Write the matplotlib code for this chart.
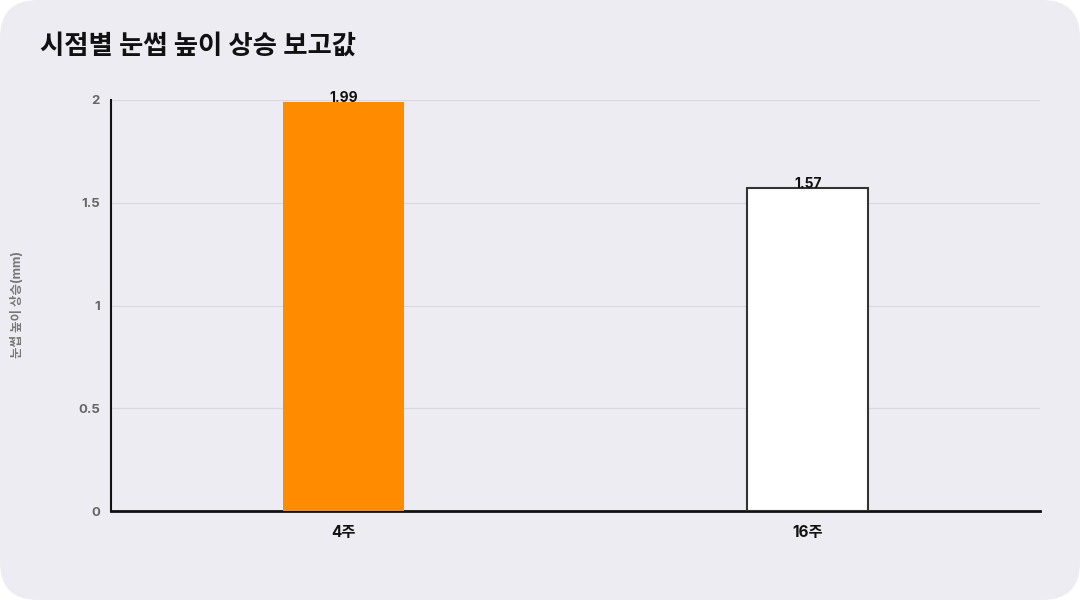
import matplotlib.pyplot as plt
from matplotlib.patches import FancyBboxPatch

# data
categories = ["4주", "16주"]
values = [1.99, 1.57]
bar_colors = ["#FF8C00", "#FFFFFF"]
edge_colors = ["#FF8C00", "#333333"]
yticks = [0, 0.5, 1, 1.5, 2]
yticklabels = ["0", "0.5", "1", "1.5", "2"]

plt.rcParams['font.family'] = ['Inter', 'Noto Sans CJK KR', 'DejaVu Sans']

bg = "#EDECF2"
fig = plt.figure(figsize=(10.8, 6), dpi=100)
fig.patch.set_facecolor("white")

# rounded card background
card = FancyBboxPatch((0, 0), 1, 1, boxstyle="round,pad=0,rounding_size=0.035",
                      transform=fig.transFigure, facecolor=bg, edgecolor="none",
                      mutation_aspect=1080 / 600, zorder=-10)
fig.patches.append(card)

ax = fig.add_axes([111 / 1080, 1 - 511 / 600, (1040 - 111) / 1080, (511 - 100) / 600])
ax.set_zorder(1)
ax.set_facecolor(bg)

x = range(len(categories))
bars = ax.bar(x, values, width=0.26, color=bar_colors, edgecolor=edge_colors,
              linewidth=1.5, zorder=3)
bars[0].set_linewidth(0)

for xi, v in zip(x, values):
    ax.annotate(f"{v:.2f}", (xi, v), xytext=(0, -2), textcoords="offset points",
                ha="center", va="bottom", fontsize=10, fontweight="bold",
                color="#111111", zorder=4)

ax.set_xlim(-0.5, 1.5)
ax.set_ylim(0, 2)
ax.set_xticks(list(x))
ax.set_xticklabels(categories, fontsize=11, fontweight="bold", color="#111111")
ax.set_yticks(yticks)
ax.set_yticklabels(yticklabels, fontsize=9.5, fontweight="bold", color="#666666")
ax.tick_params(axis="both", length=0)
ax.tick_params(axis="x", pad=10)
ax.tick_params(axis="y", pad=8)

ax.grid(axis="y", color="#D8D8DE", linewidth=0.8, zorder=0)
ax.set_axisbelow(True)
for s in ["top", "right"]:
    ax.spines[s].set_visible(False)
ax.spines["left"].set_color("#111111")
ax.spines["left"].set_linewidth(1.5)
ax.spines["bottom"].set_color("#111111")
ax.spines["bottom"].set_linewidth(2)

fig.text(18 / 1080, 1 - 305 / 600, "눈썹 높이 상승(mm)", rotation=90, ha="center",
         va="center", fontsize=9, fontweight="bold", color="#777777")
fig.text(40 / 1080, 1 - 47 / 600, "시점별 눈썹 높이 상승 보고값", ha="left", va="center",
         fontsize=19, fontweight="bold", color="#111111")

fig.savefig("out.png", dpi=100, facecolor=fig.get_facecolor())
